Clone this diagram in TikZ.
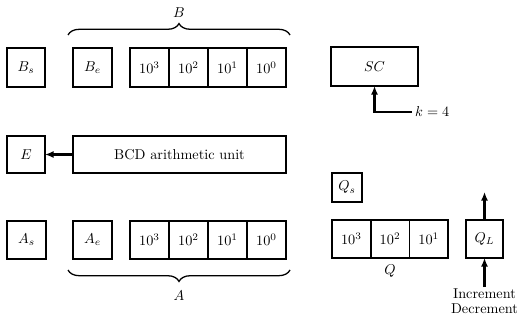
\documentclass[tikz,border=0pt]{standalone}
\usepackage{amsmath}
\usetikzlibrary{arrows.meta, positioning, decorations.pathreplacing}

\begin{document}
\begin{tikzpicture}[x=0.7pt, y=-0.7pt,
    reg/.style={rectangle, draw, line width=1.2pt, outer sep=0pt, minimum width=27.3pt, minimum height=27.3pt, inner sep=1pt},
    arrow/.style={-{Latex[length=6pt,width=5pt]}, line width=1.5pt},
    brace/.style={decorate, decoration={brace, amplitude=8pt}, line width=0.9pt}]
    \useasboundingbox (0,0) rectangle (522,320);

    % B register
    \node[reg, minimum width=26.6pt] (bs) at (26,67.5) {$B_s$};
    \node[reg] (be) at (92.5,67.5) {$B_e$};
    \node[reg, anchor=west] (b3) at (130,67.5) {$10^3$};
    \node[reg, right=0pt of b3] (b2) {$10^2$};
    \node[reg, right=0pt of b2] (b1) {$10^1$};
    \node[reg, right=0pt of b1] (b0) {$10^0$};
    \draw[brace] (68,35) -- (290,35);
    \node (blab) at (179,13) {$B$};

    % Sequence counter
    \node[reg, minimum width=61pt] (sc) at (374.5,66.5) {$SC$};
    \coordinate (kin) at (412,112);
    \draw[arrow] (kin) -| (sc.south);
    \node[anchor=west, inner sep=2pt] (k) at (kin) {$k = 4$};

    % Arithmetic unit
    \node[reg, minimum width=26.6pt, minimum height=26pt] (e) at (26,154.5) {$E$};
    \node[reg, minimum width=149pt, minimum height=26pt] (bcd) at (179.5,154.5) {BCD arithmetic unit};
    \draw[arrow] (bcd.west) -- (e.east);

    % A register
    \node[reg, minimum height=26.6pt] (as) at (26.5,240) {$A_s$};
    \node[reg, minimum height=26.6pt] (ae) at (92.5,240) {$A_e$};
    \node[reg, minimum height=26.6pt, anchor=west] (a3) at (130,240) {$10^3$};
    \node[reg, minimum height=26.6pt, right=0pt of a3] (a2) {$10^2$};
    \node[reg, minimum height=26.6pt, right=0pt of a2] (a1) {$10^1$};
    \node[reg, minimum height=26.6pt, right=0pt of a1] (a0) {$10^0$};
    \draw[brace] (290,270) -- (68,270);
    \node (alab) at (179,296) {$A$};

    % Q register
    \node[reg, minimum width=21pt, minimum height=20.3pt] (qs) at (347,187.5) {$Q_s$};
    \node[reg, minimum width=27.1pt, minimum height=26.6pt, anchor=west] (q3) at (332,239) {$10^3$};
    \node[reg, minimum width=27.1pt, minimum height=26.6pt, right=0pt of q3] (q2) {$10^2$};
    \node[reg, minimum width=27.1pt, minimum height=26.6pt, right=0pt of q2] (q1) {$10^1$};
    \node (qlab) at (390,271) {$Q$};
    \node[reg, minimum width=26pt, minimum height=26.6pt] (ql) at (484.5,239) {$Q_L$};
    \coordinate (qout) at (484.5,192);
    \coordinate (qin) at (484.5,287);
    \draw[arrow] (ql.north) -- (qout);
    \draw[arrow] (qin) -- (ql.south);
    \node[below, align=center, inner sep=1pt, font=\fontsize{10}{10.5}\selectfont] (incdec) at (qin) {Increment\\Decrement};
\end{tikzpicture}
\end{document}
